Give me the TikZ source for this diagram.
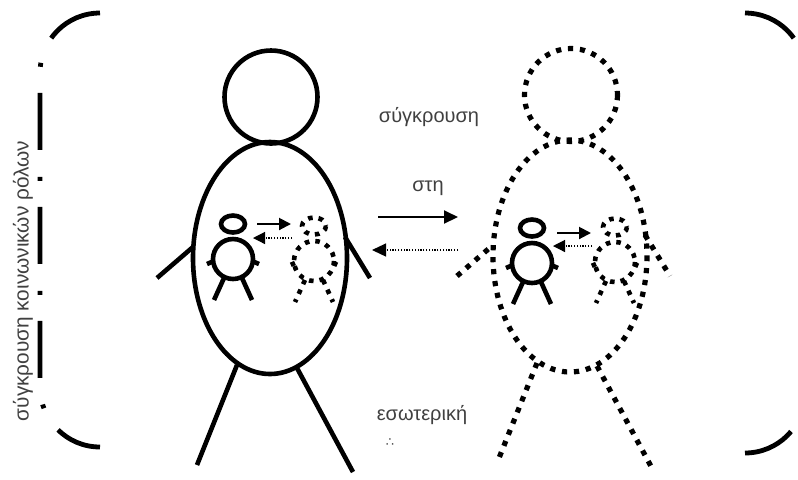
\documentclass[tikz,border=0pt]{standalone}
\usepackage{fontspec}
\newfontfamily\greekfont{Liberation Sans}
\newfontfamily\symfont{DejaVu Sans}
\usepackage{tikz}
\usetikzlibrary{arrows.meta,positioning}

\tikzset{
  solidline/.style={line width=2.3pt},
  dotline/.style={line width=2.6pt,dash pattern=on 2.6pt off 3.4pt},
  kidline/.style={line width=2.3pt},
  kiddots/.style={line width=2.3pt,dash pattern=on 2.3pt off 3pt},
  frame/.style={line width=2.4pt,rounded corners=30pt,%
    dash pattern=on 28.5pt off 13.5pt on 2pt off 13pt},
  fwd/.style={line width=1pt,-{Triangle[length=6pt,width=6pt]}},
  back/.style={line width=0.6pt,dash pattern=on 0.6pt off 0.8pt,%
    -{Triangle[length=6pt,width=6pt]}},
  bigfwd/.style={line width=1pt,-{Triangle[length=7pt,width=6.5pt]}},
  bigback/.style={line width=0.6pt,dash pattern=on 0.6pt off 0.8pt,%
    -{Triangle[length=7pt,width=6.5pt]}},
  lbl/.style={font=\greekfont\fontsize{10}{12}\selectfont,text=black!75,inner sep=0pt},
  pics/person/.style={code={
    \draw (1,-161) circle (46.5);
    \draw (0,0) ellipse (77 and 116);
    \draw (-113,20) -- (-77,-11);
    \draw (75,-21) -- (100,20);
    \draw (-33,107) -- (-73,207);
    \draw (27,110) -- (83,214);
  }},
  pics/kid/.style={code={
    \draw (0,-35) ellipse (12 and 8.5);
    \draw (0,0) circle (20);
    \draw (-19,2) -- (-26,5);
    \draw (19,2) -- (26,5);
    \draw (-9,19) -- (-19,41);
    \draw (9,19) -- (19,41);
  }},
}

\begin{document}
\begin{tikzpicture}[x=0.5pt,y=-0.5pt]
  \useasboundingbox (0,0) rectangle (798,479);
  \clip (0,0) rectangle (798,479);
  % brackets round the whole scene
  \draw[frame] (100,13) -- (40,13) -- (40,447) -- (100,447);
  \draw[frame] (745,13) -- (805,13) -- (805,453) -- (745,453);
  %
  \node[lbl,rotate=90,font=\greekfont\fontsize{10.4}{12}\selectfont](roles) at (23,281){σύγκρουση κοινωνικών ρόλων};
  %
  \pic[solidline] at (270,258) {person};
  \pic[dotline] at (570,256) {person};
  %
  \pic[kidline] at (233,259) {kid};
  \pic[kiddots] at (314,261) {kid};
  \pic[kidline] at (532,263) {kid};
  \pic[kiddots] at (615,262) {kid};
  %
  \draw[fwd] (257,224) -- (291,224);
  \draw[back] (292,238) -- (253,238);
  \draw[fwd] (557,233) -- (591,233);
  \draw[back] (592,246) -- (553,246);
  %
  \node[lbl](top) at (429,117){σύγκρουση};
  \node[lbl](mid) at (428,188){στη};
  \draw[bigfwd] (378,217) -- (458,217);
  \draw[bigback] (458,250) -- (372,250);
  \node[lbl](bottom) at (422,415){εσωτερική};
  \node[font=\symfont\fontsize{6.5}{6.5}\selectfont,text=black!70,inner sep=0pt](dots) at (390,443){∴};
\end{tikzpicture}
\end{document}
